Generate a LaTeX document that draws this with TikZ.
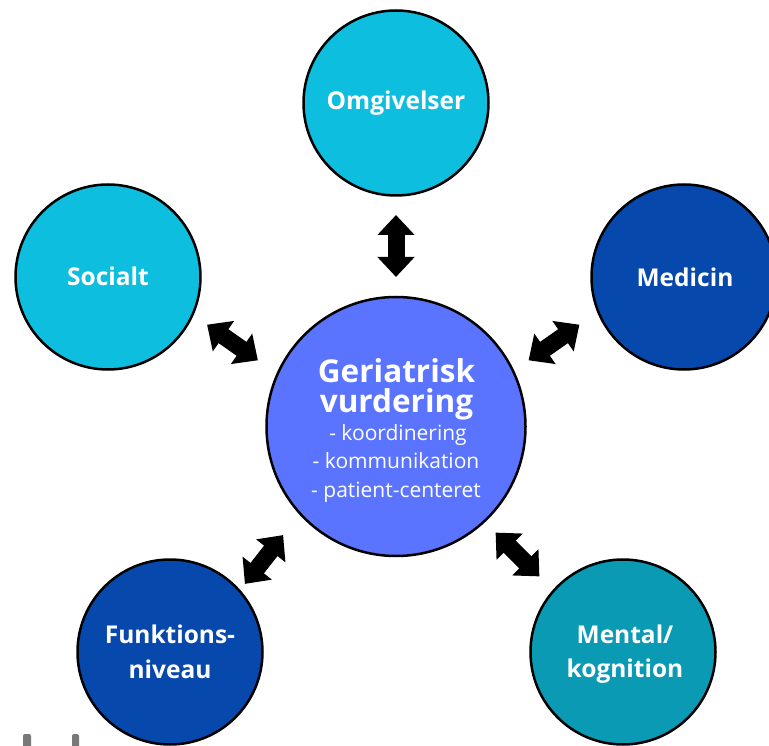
\documentclass[tikz,border=0pt]{standalone}
\usepackage{fontspec}
\setmainfont{Open Sans}
\usetikzlibrary{arrows.meta}
\definecolor{cyanc}{RGB}{14,190,222}
\definecolor{darkc}{RGB}{6,72,172}
\definecolor{tealc}{RGB}{10,154,180}
\definecolor{centc}{RGB}{90,116,255}
\definecolor{markc}{RGB}{120,120,120}
\begin{document}
\begin{tikzpicture}[x=1pt,y=-1pt,
  topic/.style={circle,draw=black,line width=2.5pt,minimum size=185pt,inner sep=0pt},
  lab/.style={anchor=base,text=white,inner sep=0pt,font=\bfseries\fontsize{24.5}{28}\selectfont},
  biglab/.style={anchor=base,text=white,inner sep=0pt,font=\bfseries\fontsize{31.5}{34}\selectfont},
  sublab/.style={anchor=base,text=white,inner sep=0pt,font=\fontsize{21}{24}\selectfont},
  blockarrow/.style={line width=17pt,{Triangle[length=20pt,width=36pt]}-{Triangle[length=20pt,width=36pt]}},
  grmark/.style={fill=markc,rounded corners=2pt}]
\useasboundingbox (0,0) rectangle (769,746);
\begin{scope}
\clip (0,0) rectangle (769,746);
% circles
\node[topic,fill=cyanc] (omg) at (396,103) {};
\node[topic,fill=cyanc] (soc) at (108,277) {};
\node[topic,fill=darkc] (med) at (684,277) {};
\node[topic,fill=darkc] (fun) at (170,652) {};
\node[topic,fill=tealc] (men) at (623,652) {};
\node[topic,fill=centc,minimum size=259pt] (ger) at (396,426.5) {};
% labels
\node[lab] (tomg) at (396,109.5) {Omgivelser};
\node[lab] (tsoc) at (108,285.5) {Socialt};
\node[lab] (tmed) at (685,286.5) {Medicin};
\node[lab] (tfun1) at (170,643.5) {Funktions-};
\node[lab] (tfun2) at (170,678.5) {niveau};
\node[lab] (tmen1) at (625,643.5) {Mental/};
\node[lab] (tmen2) at (625,677.5) {kognition};
\node[biglab] (tger1) at (396.5,382.5) {Geriatrisk};
\node[biglab] (tger2) at (396.5,412.5) {vurdering};
\node[sublab] (tger3) at (398,440.5) {- koordinering};
\node[sublab] (tger4) at (396,468.5) {- kommunikation};
\node[sublab] (tger5) at (396,497.5) {- patient-centeret};
% arrows
\coordinate (a1s) at (396,277);   \coordinate (a1e) at (396,215);
\coordinate (a2s) at (257.9,360.3); \coordinate (a2e) at (207.1,324.7);
\coordinate (a3s) at (528.6,360.3); \coordinate (a3e) at (579.4,324.7);
\coordinate (a4s) at (283.1,535.1); \coordinate (a4e) at (244.9,583.9);
\coordinate (a5s) at (495.6,532.6); \coordinate (a5e) at (539.4,576.4);
\draw[blockarrow] (a1s) -- (a1e);
\draw[blockarrow] (a2s) -- (a2e);
\draw[blockarrow] (a3s) -- (a3e);
\draw[blockarrow] (a4s) -- (a4e);
\draw[blockarrow] (a5s) -- (a5e);
% partial marks at bottom left
\fill[grmark] (23,734) rectangle (31,750);
\fill[grmark] (72,734) rectangle (79,750);
\end{scope}
\end{tikzpicture}
\end{document}
